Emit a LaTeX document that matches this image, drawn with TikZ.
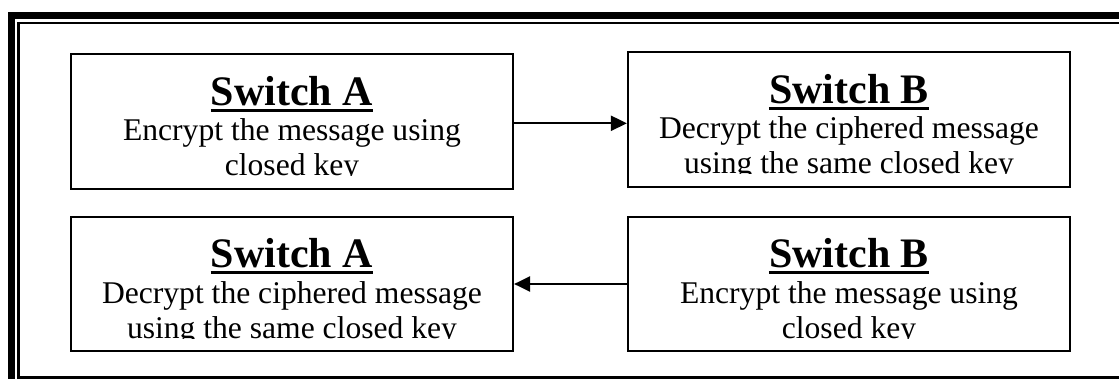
\documentclass[tikz,border=0pt]{standalone}
\usepackage{fontspec}
\setmainfont{Liberation Serif}
\usetikzlibrary{calc,arrows.meta}
\tikzset{
  switchbox/.style={draw, line width=2.2pt, minimum width=442pt, minimum height=134.4pt, inner sep=0pt},
  heading/.style={anchor=base, inner sep=0pt, font=\fontsize{42}{48}\selectfont\bfseries},
  bodytext/.style={anchor=base, inner sep=0pt, font=\fontsize{31.6}{36}\selectfont},
  underbar/.style={line width=3.3pt},
  link/.style={line width=2.2pt, -{Triangle[length=16pt,width=15pt]}},
  outerrule/.style={line width=7.4pt},
  innerrule/.style={line width=2.6pt},
}
% Title, two text lines and the title underline of one switch box;
% the text is cut off at the lower edge of the box's text area.
\newcommand\switchtext[4]{%
  \begin{scope}
    \clip ($(#1.north west)+(1.5,1.5)$) rectangle ($(#1.north east)+(-1.5,122.8)$);
    \node[heading]  (#1-title) at ($(#1.north)+(0,52)$)    {#2};
    \node[bodytext] (#1-line1) at ($(#1.north)+(0,87.5)$)  {#3};
    \node[bodytext] (#1-line2) at ($(#1.north)+(0,122.6)$) {#4};
    \draw[underbar] ($(#1-title.base west)+(0,5)$) -- ($(#1-title.base east)+(0,5)$);
  \end{scope}
}
\begin{document}
\begin{tikzpicture}[x=1pt,y=-1pt]
\useasboundingbox (0,0) rectangle (1119,379);
\clip (0,0) rectangle (1119,379);

% page border: heavy outer rule and thin inner rule
\draw[outerrule] (11.2,15.7) rectangle (1140,400);
\draw[innerrule] (18.7,23) rectangle (1130,377.3);

% the four switch boxes
\node[switchbox] (A1) at (292,121.5) {};
\node[switchbox] (B1) at (849,119.5) {};
\node[switchbox] (A2) at (292,283.9) {};
\node[switchbox] (B2) at (849,284.0) {};

\switchtext{A1}{Switch A}{Encrypt the message using}{closed key}
\switchtext{B1}{Switch B}{Decrypt the ciphered message}{using the same closed key}
\switchtext{A2}{Switch A}{Decrypt the ciphered message}{using the same closed key}
\switchtext{B2}{Switch B}{Encrypt the message using}{closed key}

% message flow between the switches
\draw[link] ([yshift=-1.8pt]A1.east) -- ([yshift=-1.8pt]A1.east -| B1.west);
\draw[link] (B2.west) -- (B2.west -| A2.east);
\end{tikzpicture}
\end{document}
